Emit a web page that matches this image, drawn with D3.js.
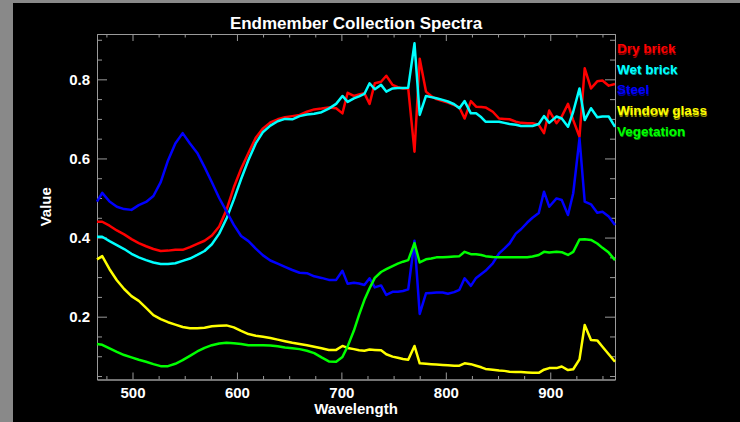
<!DOCTYPE html>
<html>
<head>
<meta charset="utf-8">
<script src="https://d3js.org/d3.v7.min.js"></script>
<style>
  body { margin: 0; background: #898989; }
  #chart text { font-family: "Liberation Sans", Arial, sans-serif; font-weight: bold; }
</style>
</head>
<body>
<div id="chart"></div>
<script>
// wavelengths (nm) shared by all spectra
var wavelengths = [466, 471, 478, 485, 492, 499, 506, 513, 520, 527, 534, 541, 548, 555, 562, 569, 576, 583, 590, 597,
    604, 611, 618, 625, 632, 639, 646, 653, 660, 667, 674, 681, 688, 695,
    701, 706, 712, 717, 722, 727, 732, 738, 743, 749, 754, 759, 764, 770,
    775, 781, 786, 791, 797, 802, 808, 813, 818, 824, 829, 834, 838,
    845, 851, 856, 861, 867, 872, 878, 883, 889,
    894, 899, 906, 911, 917, 922, 928, 933, 939, 945, 950, 956, 962];

var dryBrick = [0.440, 0.440, 0.430, 0.418, 0.408, 0.396, 0.386, 0.378, 0.371, 0.366, 0.367, 0.369, 0.369, 0.376, 0.384, 0.392, 0.405, 0.428, 0.470, 0.527,
    0.574, 0.614, 0.652, 0.676, 0.691, 0.699, 0.704, 0.707, 0.710, 0.718, 0.724, 0.726, 0.729, 0.727,
    0.714, 0.766, 0.758, 0.762, 0.765, 0.738, 0.790, 0.794, 0.809, 0.786, 0.780, 0.777, 0.777, 0.617,
    0.852, 0.769, 0.758, 0.750, 0.745, 0.741, 0.735, 0.729, 0.701, 0.745, 0.731, 0.730, 0.729,
    0.718, 0.701, 0.700, 0.699, 0.693, 0.690, 0.689, 0.689, 0.685,
    0.664, 0.721, 0.689, 0.706, 0.738, 0.697, 0.655, 0.828, 0.777, 0.795, 0.797, 0.784, 0.788];

var wetBrick = [0.402, 0.402, 0.391, 0.381, 0.371, 0.359, 0.350, 0.343, 0.337, 0.333, 0.333, 0.335, 0.341, 0.347, 0.356, 0.366, 0.383, 0.410, 0.448, 0.496,
    0.548, 0.596, 0.638, 0.667, 0.683, 0.694, 0.700, 0.699, 0.707, 0.711, 0.713, 0.717, 0.726, 0.738,
    0.758, 0.743, 0.752, 0.757, 0.763, 0.790, 0.775, 0.786, 0.769, 0.777, 0.778, 0.778, 0.779, 0.891,
    0.710, 0.758, 0.755, 0.752, 0.748, 0.744, 0.737, 0.727, 0.745, 0.714, 0.714, 0.704, 0.693,
    0.693, 0.693, 0.690, 0.687, 0.685, 0.682, 0.682, 0.682, 0.687,
    0.707, 0.690, 0.706, 0.701, 0.680, 0.718, 0.777, 0.697, 0.727, 0.704, 0.706, 0.706, 0.680];

var steel = [0.491, 0.513, 0.491, 0.478, 0.472, 0.470, 0.482, 0.490, 0.505, 0.540, 0.595, 0.638, 0.664, 0.638, 0.614, 0.578, 0.540, 0.500, 0.466, 0.432,
    0.404, 0.391, 0.372, 0.355, 0.342, 0.334, 0.326, 0.318, 0.311, 0.310, 0.302, 0.298, 0.293, 0.293,
    0.316, 0.283, 0.286, 0.284, 0.280, 0.297, 0.274, 0.279, 0.255, 0.263, 0.263, 0.265, 0.269, 0.392,
    0.207, 0.259, 0.260, 0.261, 0.261, 0.258, 0.262, 0.268, 0.297, 0.278, 0.298, 0.308, 0.316,
    0.335, 0.360, 0.372, 0.385, 0.410, 0.421, 0.438, 0.450, 0.462,
    0.516, 0.478, 0.499, 0.495, 0.457, 0.512, 0.651, 0.491, 0.484, 0.463, 0.465, 0.453, 0.432];

var windowGlass = [0.345, 0.353, 0.320, 0.292, 0.270, 0.252, 0.240, 0.222, 0.204, 0.194, 0.186, 0.180, 0.174, 0.171, 0.171, 0.172, 0.176, 0.177, 0.178, 0.173,
    0.164, 0.156, 0.152, 0.149, 0.146, 0.142, 0.138, 0.134, 0.131, 0.128, 0.124, 0.120, 0.116, 0.116,
    0.126, 0.121, 0.118, 0.115, 0.114, 0.117, 0.116, 0.115, 0.105, 0.099, 0.096, 0.093, 0.091, 0.126,
    0.082, 0.081, 0.080, 0.079, 0.078, 0.077, 0.076, 0.076, 0.082, 0.080, 0.076, 0.072, 0.068,
    0.066, 0.064, 0.063, 0.061, 0.060, 0.060, 0.059, 0.058, 0.058,
    0.066, 0.070, 0.070, 0.074, 0.065, 0.067, 0.092, 0.179, 0.141, 0.140, 0.124, 0.105, 0.086];

var vegetation = [0.131, 0.129, 0.120, 0.111, 0.103, 0.097, 0.091, 0.086, 0.080, 0.075, 0.075, 0.081, 0.090, 0.101, 0.112, 0.121, 0.128, 0.132, 0.134, 0.133,
    0.131, 0.128, 0.128, 0.128, 0.127, 0.125, 0.122, 0.120, 0.118, 0.114, 0.108, 0.097, 0.087, 0.086,
    0.098, 0.125, 0.165, 0.205, 0.242, 0.272, 0.298, 0.313, 0.320, 0.328, 0.334, 0.339, 0.343, 0.386,
    0.337, 0.345, 0.347, 0.350, 0.350, 0.351, 0.352, 0.353, 0.364, 0.358, 0.358, 0.356, 0.353,
    0.351, 0.350, 0.350, 0.350, 0.350, 0.350, 0.350, 0.352, 0.356,
    0.364, 0.362, 0.364, 0.363, 0.356, 0.364, 0.395, 0.396, 0.394, 0.385, 0.374, 0.362, 0.343];

var seriesNames = ["Dry brick", "Wet brick", "Steel", "Window glass", "Vegetation"];
var seriesColors = ["#ff0000", "#00ffff", "#0000ff", "#ffff00", "#00ff00"];
var seriesValues = [dryBrick, wetBrick, steel, windowGlass, vegetation];

var xMajorTicks = [500, 600, 700, 800, 900];
var yMajorTicks = [0.2, 0.4, 0.6, 0.8];

var xDomain = [466, 962];
var yDomain = [0.0412, 0.9146];

// set the dimensions of the page and the plot box
var width = 740, height = 422;
var plot = {left: 97, right: 615, top: 34, bottom: 379.5};
var axisColor = "#9a9a9a";

var svg = d3.select("#chart")
  .append("svg")
    .attr("width", width)
    .attr("height", height);

// gray frame with the black drawing area
svg.append("rect")
    .attr("width", width).attr("height", height)
    .style("fill", "#898989");
svg.append("rect")
    .attr("x", 13).attr("y", 3)
    .attr("width", width - 13).attr("height", height - 3)
    .style("fill", "#000");

var x = d3.scaleLinear().domain(xDomain).range([plot.left, plot.right]);
var y = d3.scaleLinear().domain(yDomain).range([plot.bottom, plot.top]);

var xMinor = d3.range(475, 962, 25).filter(function(d){ return xMajorTicks.indexOf(d) < 0; });
var yMinor = d3.range(0.05, 0.91, 0.05).filter(function(d){
    return yMajorTicks.every(function(m){ return Math.abs(m - d) > 1e-6; });
});

function styleAxis(g){
    g.select(".domain").attr("stroke", axisColor).attr("stroke-width", 1);
    g.selectAll(".tick line").attr("stroke", axisColor).attr("stroke-width", 1);
    g.selectAll("text")
        .attr("fill", "#fff")
        .style("font-size", "15px");
}

// bottom axis, ticks pointing up into the plot
svg.append("g")
    .attr("transform", "translate(0," + plot.bottom + ")")
    .call(d3.axisBottom(x).tickValues(xMajorTicks).tickSize(-7).tickPadding(8).tickSizeOuter(0).tickFormat(d3.format("d")))
    .call(styleAxis);
svg.append("g")
    .attr("transform", "translate(0," + plot.bottom + ")")
    .call(d3.axisBottom(x).tickValues(xMinor).tickSize(-3.5).tickSizeOuter(0).tickFormat(""))
    .call(styleAxis);

// top axis, ticks pointing down
svg.append("g")
    .attr("transform", "translate(0," + plot.top + ")")
    .call(d3.axisTop(x).tickValues(xMajorTicks).tickSize(-7).tickSizeOuter(0).tickFormat(""))
    .call(styleAxis);
svg.append("g")
    .attr("transform", "translate(0," + plot.top + ")")
    .call(d3.axisTop(x).tickValues(xMinor).tickSize(-3.5).tickSizeOuter(0).tickFormat(""))
    .call(styleAxis);

// left axis, ticks pointing right
svg.append("g")
    .attr("transform", "translate(" + plot.left + ",0)")
    .call(d3.axisLeft(y).tickValues(yMajorTicks).tickSize(-10).tickPadding(7).tickSizeOuter(0).tickFormat(d3.format(".1f")))
    .call(styleAxis);
svg.append("g")
    .attr("transform", "translate(" + plot.left + ",0)")
    .call(d3.axisLeft(y).tickValues(yMinor).tickSize(-5).tickSizeOuter(0).tickFormat(""))
    .call(styleAxis);

// right axis, ticks pointing left
svg.append("g")
    .attr("transform", "translate(" + plot.right + ",0)")
    .call(d3.axisRight(y).tickValues(yMajorTicks).tickSize(-10).tickSizeOuter(0).tickFormat(""))
    .call(styleAxis);
svg.append("g")
    .attr("transform", "translate(" + plot.right + ",0)")
    .call(d3.axisRight(y).tickValues(yMinor).tickSize(-5).tickSizeOuter(0).tickFormat(""))
    .call(styleAxis);

// the spectra
var line = d3.line()
    .x(function(d){ return x(d[0]); })
    .y(function(d){ return y(d[1]); });

seriesValues.forEach(function(vals, i){
    svg.append("path")
        .datum(wavelengths.map(function(w, j){ return [w, vals[j]]; }))
        .attr("d", line)
        .attr("fill", "none")
        .attr("stroke", seriesColors[i])
        .attr("stroke-width", 2.5)
        .attr("stroke-linejoin", "round");
});

// legend on the right
var legend = svg.append("g");
seriesNames.forEach(function(name, i){
    var c = d3.color(seriesColors[i]).darker(1.6);
    legend.append("text")
        .attr("x", 617.5)
        .attr("y", 54.5 + i * 20.7)
        .text(name)
        .attr("fill", c.formatHex())
        .style("font-size", "13.5px");
    legend.append("text")
        .attr("x", 617)
        .attr("y", 53 + i * 20.7)
        .text(name)
        .attr("fill", seriesColors[i])
        .style("font-size", "13.5px");
});

// title
svg.append("text")
    .attr("x", (plot.left + plot.right) / 2)
    .attr("y", 29)
    .attr("text-anchor", "middle")
    .attr("fill", "#fff")
    .style("font-size", "17px")
    .text("Endmember Collection Spectra");

// x label
svg.append("text")
    .attr("x", (plot.left + plot.right) / 2)
    .attr("y", 413.5)
    .attr("text-anchor", "middle")
    .attr("fill", "#fff")
    .style("font-size", "15px")
    .text("Wavelength");

// y label
svg.append("text")
    .attr("transform", "translate(51," + (plot.top + plot.bottom) / 2 + ") rotate(-90)")
    .attr("text-anchor", "middle")
    .attr("fill", "#fff")
    .style("font-size", "15px")
    .text("Value");
</script>
</body>
</html>
